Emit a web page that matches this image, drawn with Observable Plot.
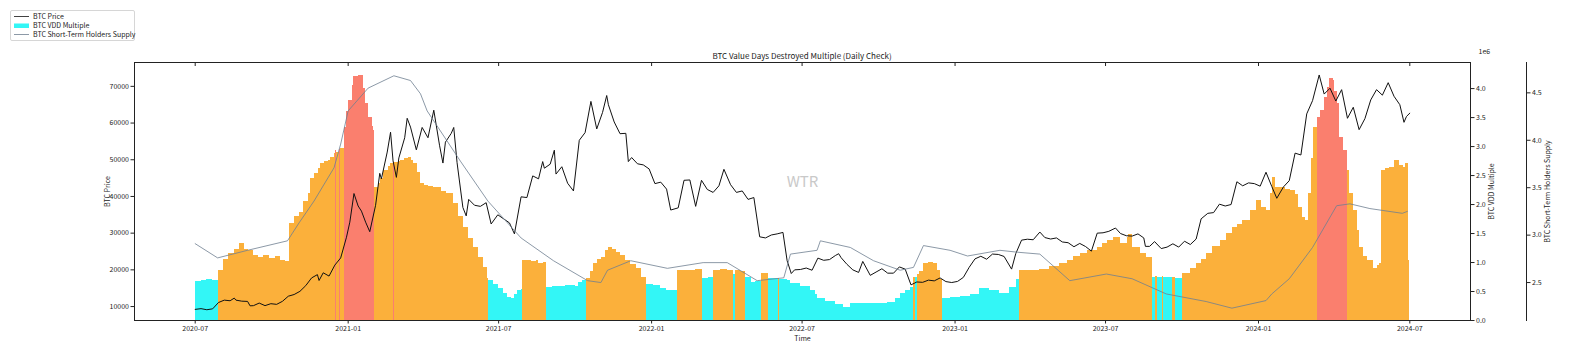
<!DOCTYPE html>
<html><head><meta charset="utf-8">
<script src="https://cdn.jsdelivr.net/npm/d3@7"></script>
<script src="https://cdn.jsdelivr.net/npm/@observablehq/plot@0.6"></script>
<style>
body{margin:0;background:#fff;}
#wrap{position:relative;width:1569px;height:346px;overflow:hidden;font-family:"Noto Sans CJK SC","DejaVu Sans",sans-serif;color:#222;}
.layer{position:absolute;left:0;top:0;}
.legend{position:absolute;left:10px;top:10px;width:123px;height:29px;border:1px solid #d6d6d6;border-radius:2px;background:#fff;font-size:7px;}
.row{position:absolute;left:0;height:9px;line-height:9px;white-space:nowrap;}
.row svg{position:absolute;left:3px;top:0;}
.row span{position:absolute;left:22px;top:0;}
.title{position:absolute;top:50px;left:0;width:1604px;text-align:center;font-size:8px;}
</style></head>
<body><div id="wrap"></div>
<script>
// ---------- data ----------
const priceDates = ["2020-07-01","2020-07-08","2020-07-15","2020-07-22","2020-07-29","2020-08-05","2020-08-12","2020-08-17","2020-08-19","2020-08-26","2020-09-02","2020-09-05","2020-09-09","2020-09-16","2020-09-23","2020-09-30","2020-10-07","2020-10-14","2020-10-21","2020-10-28","2020-11-04","2020-11-11","2020-11-18","2020-11-25","2020-11-27","2020-12-02","2020-12-09","2020-12-16","2020-12-23","2020-12-30","2021-01-03","2021-01-08","2021-01-13","2021-01-17","2021-01-22","2021-01-27","2021-02-03","2021-02-08","2021-02-10","2021-02-17","2021-02-21","2021-02-24","2021-02-28","2021-03-03","2021-03-10","2021-03-13","2021-03-17","2021-03-24","2021-03-31","2021-04-07","2021-04-14","2021-04-21","2021-04-25","2021-04-28","2021-05-05","2021-05-08","2021-05-12","2021-05-19","2021-05-23","2021-05-26","2021-06-02","2021-06-09","2021-06-16","2021-06-22","2021-06-30","2021-07-07","2021-07-14","2021-07-20","2021-07-28","2021-08-04","2021-08-11","2021-08-18","2021-08-23","2021-08-25","2021-09-01","2021-09-06","2021-09-08","2021-09-15","2021-09-22","2021-09-29","2021-10-06","2021-10-13","2021-10-20","2021-10-27","2021-11-03","2021-11-08","2021-11-10","2021-11-17","2021-11-24","2021-12-01","2021-12-04","2021-12-08","2021-12-15","2021-12-22","2021-12-29","2022-01-05","2022-01-12","2022-01-19","2022-01-24","2022-02-02","2022-02-09","2022-02-16","2022-02-23","2022-03-02","2022-03-09","2022-03-16","2022-03-23","2022-03-29","2022-04-06","2022-04-13","2022-04-20","2022-04-27","2022-05-04","2022-05-11","2022-05-18","2022-05-25","2022-06-01","2022-06-08","2022-06-13","2022-06-18","2022-06-22","2022-06-29","2022-07-06","2022-07-13","2022-07-20","2022-07-27","2022-08-03","2022-08-10","2022-08-14","2022-08-17","2022-08-24","2022-08-31","2022-09-07","2022-09-12","2022-09-21","2022-09-28","2022-10-05","2022-10-12","2022-10-19","2022-10-26","2022-11-02","2022-11-09","2022-11-16","2022-11-23","2022-11-30","2022-12-07","2022-12-14","2022-12-21","2022-12-28","2023-01-04","2023-01-11","2023-01-18","2023-01-25","2023-02-01","2023-02-08","2023-02-15","2023-02-22","2023-03-01","2023-03-10","2023-03-15","2023-03-22","2023-03-29","2023-04-05","2023-04-13","2023-04-19","2023-04-26","2023-05-03","2023-05-10","2023-05-17","2023-05-24","2023-05-31","2023-06-07","2023-06-14","2023-06-21","2023-06-28","2023-07-05","2023-07-13","2023-07-19","2023-07-26","2023-08-02","2023-08-09","2023-08-16","2023-08-18","2023-08-23","2023-08-29","2023-09-06","2023-09-13","2023-09-20","2023-09-27","2023-10-04","2023-10-11","2023-10-18","2023-10-24","2023-11-01","2023-11-08","2023-11-15","2023-11-22","2023-11-29","2023-12-06","2023-12-13","2023-12-20","2023-12-27","2024-01-03","2024-01-10","2024-01-17","2024-01-23","2024-01-31","2024-02-07","2024-02-14","2024-02-21","2024-02-28","2024-03-06","2024-03-14","2024-03-20","2024-03-27","2024-04-03","2024-04-10","2024-04-17","2024-04-24","2024-05-01","2024-05-08","2024-05-15","2024-05-22","2024-05-29","2024-06-05","2024-06-12","2024-06-19","2024-06-24","2024-06-27","2024-07-01"];
const priceValues = [9230,9430,9130,9380,11100,11750,11580,12300,11750,11470,11400,10200,10240,10950,10250,10780,10600,11430,12820,13280,14150,15700,17800,18700,17100,19200,18300,21300,23250,28900,33000,40800,37400,36000,33000,30400,37600,46300,44800,52100,57500,49700,45200,50500,56000,61300,58900,52700,58800,56000,63500,53800,49100,54800,57200,58800,49200,37000,34700,39200,37600,37300,38300,32500,35000,33900,32800,29800,39900,39700,45600,44800,49500,47700,48800,52600,46100,48100,43600,41500,55300,57400,65900,58400,62900,67500,65000,60300,57100,57200,49500,50600,48900,48600,47500,43500,43900,42000,36300,36900,44400,44500,37300,44400,41900,41100,42900,47400,43200,41100,41500,39200,39700,29000,28700,29500,29800,30200,22500,19000,20000,20100,20500,19900,23200,22600,22800,23900,24400,23300,21500,20000,19300,22300,18500,19400,20300,19100,19100,20800,20200,15900,16700,16600,17200,17000,17800,16800,16550,16850,17950,20700,23000,23700,22900,24300,24200,23650,20200,24400,28100,28350,28200,30300,28800,28400,28700,27600,27400,26300,27200,26350,25100,30000,30100,30500,31400,29900,29300,29200,29800,28700,26400,26400,27700,25800,26200,27100,26200,27800,26900,28400,33900,35400,35600,37900,37400,37800,44000,42900,43700,43500,42800,46600,42700,39500,42600,44300,51800,51300,62500,66100,73100,67900,69500,66000,69100,61300,64300,58200,61200,66300,69100,67600,71000,67300,65000,60200,61800,62700];

const sthDates = ["2020-07-01","2020-07-28","2020-09-02","2020-10-20","2020-11-03","2020-11-21","2020-12-15","2020-12-23","2021-01-01","2021-01-25","2021-02-25","2021-03-17","2021-03-29","2021-04-06","2021-05-16","2021-06-18","2021-07-28","2021-09-05","2021-10-16","2021-11-01","2021-11-09","2021-12-07","2022-01-20","2022-03-04","2022-04-02","2022-05-08","2022-06-09","2022-06-17","2022-07-19","2022-07-23","2022-08-28","2022-09-25","2022-10-27","2022-11-12","2022-11-24","2022-12-26","2023-01-16","2023-02-24","2023-03-17","2023-04-13","2023-05-19","2023-07-02","2023-08-02","2023-09-12","2023-10-30","2023-11-30","2024-01-10","2024-01-17","2024-02-07","2024-03-06","2024-04-04","2024-04-20","2024-05-14","2024-06-22","2024-06-28"];
const sthValues = [2.91,2.76,2.84,2.94,3.13,3.36,3.71,3.96,4.31,4.55,4.68,4.63,4.49,4.31,3.78,3.36,2.97,2.73,2.52,2.50,2.63,2.73,2.65,2.71,2.71,2.52,2.55,2.80,2.84,2.94,2.87,2.73,2.63,2.66,2.89,2.84,2.78,2.84,2.82,2.80,2.52,2.59,2.54,2.38,2.30,2.23,2.31,2.38,2.54,2.87,3.31,3.33,3.28,3.23,3.25];

const vddDates = ["2020-07-01","2020-07-08","2020-07-15","2020-07-22","2020-07-29","2020-08-04","2020-08-10","2020-08-17","2020-08-23","2020-08-29","2020-09-03","2020-09-09","2020-09-15","2020-09-21","2020-09-28","2020-10-05","2020-10-12","2020-10-18","2020-10-22","2020-10-28","2020-11-03","2020-11-08","2020-11-14","2020-11-17","2020-11-21","2020-11-26","2020-11-29","2020-12-04","2020-12-08","2020-12-11","2020-12-15","2020-12-17","2020-12-18","2020-12-22","2020-12-23","2020-12-27","2020-12-30","2021-01-02","2021-01-06","2021-01-08","2021-01-13","2021-01-16","2021-01-19","2021-01-22","2021-01-26","2021-01-30","2021-02-01","2021-02-02","2021-02-06","2021-02-09","2021-02-13","2021-02-18","2021-02-21","2021-02-25","2021-02-26","2021-03-02","2021-03-05","2021-03-10","2021-03-14","2021-03-18","2021-03-21","2021-03-26","2021-03-29","2021-04-03","2021-04-08","2021-04-14","2021-04-23","2021-04-29","2021-05-05","2021-05-08","2021-05-14","2021-05-20","2021-05-26","2021-06-01","2021-06-07","2021-06-13","2021-06-18","2021-06-19","2021-06-25","2021-07-01","2021-07-07","2021-07-12","2021-07-16","2021-07-20","2021-07-24","2021-07-28","2021-07-30","2021-08-09","2021-08-16","2021-08-18","2021-08-24","2021-08-28","2021-09-04","2021-09-11","2021-09-20","2021-09-26","2021-10-01","2021-10-05","2021-10-10","2021-10-15","2021-10-20","2021-10-23","2021-10-28","2021-11-02","2021-11-07","2021-11-10","2021-11-15","2021-11-20","2021-11-25","2021-12-01","2021-12-07","2021-12-14","2021-12-20","2021-12-26","2022-01-03","2022-01-12","2022-01-19","2022-01-26","2022-02-01","2022-02-11","2022-02-23","2022-03-03","2022-03-10","2022-03-17","2022-03-25","2022-04-02","2022-04-10","2022-04-12","2022-04-18","2022-04-24","2022-05-01","2022-05-06","2022-05-13","2022-05-18","2022-05-22","2022-06-03","2022-06-04","2022-06-13","2022-06-17","2022-06-29","2022-07-11","2022-07-17","2022-07-19","2022-07-29","2022-08-10","2022-08-20","2022-08-28","2022-09-09","2022-09-21","2022-10-03","2022-10-12","2022-10-21","2022-10-27","2022-11-02","2022-11-08","2022-11-12","2022-11-14","2022-11-17","2022-11-19","2022-11-24","2022-11-30","2022-12-06","2022-12-11","2022-12-14","2022-12-17","2022-12-26","2023-01-07","2023-01-19","2023-01-31","2023-02-12","2023-02-24","2023-03-08","2023-03-16","2023-03-20","2023-04-01","2023-04-13","2023-04-25","2023-05-07","2023-05-16","2023-05-23","2023-06-01","2023-06-09","2023-06-21","2023-06-27","2023-07-03","2023-07-10","2023-07-19","2023-07-27","2023-07-29","2023-08-03","2023-08-12","2023-08-19","2023-08-26","2023-08-30","2023-09-02","2023-09-07","2023-09-09","2023-09-19","2023-09-23","2023-10-02","2023-10-11","2023-10-19","2023-10-25","2023-10-31","2023-11-07","2023-11-16","2023-11-24","2023-12-01","2023-12-07","2023-12-13","2023-12-22","2023-12-30","2024-01-05","2024-01-11","2024-01-15","2024-01-18","2024-01-22","2024-01-27","2024-02-02","2024-02-08","2024-02-14","2024-02-18","2024-02-23","2024-02-26","2024-03-01","2024-03-05","2024-03-07","2024-03-12","2024-03-15","2024-03-20","2024-03-24","2024-03-27","2024-03-31","2024-04-02","2024-04-05","2024-04-08","2024-04-12","2024-04-17","2024-04-20","2024-04-24","2024-04-29","2024-05-02","2024-05-06","2024-05-11","2024-05-18","2024-05-23","2024-05-26","2024-05-28","2024-06-02","2024-06-07","2024-06-13","2024-06-18","2024-06-23","2024-06-26","2024-06-29"];
const vddValues = [0.68,0.69,0.70,0.69,0.86,1.05,1.16,1.22,1.33,1.22,1.20,1.12,1.09,1.12,1.07,1.10,1.03,1.01,1.67,1.80,1.86,2.05,2.19,2.45,2.53,2.62,2.71,2.74,2.76,2.82,2.88,2.93,2.90,2.95,2.96,3.33,3.60,3.80,4.05,4.20,4.22,4.22,4.00,3.75,3.50,3.35,3.28,2.30,2.36,2.45,2.59,2.66,2.71,2.72,2.72,2.74,2.76,2.79,2.81,2.76,2.71,2.55,2.36,2.33,2.31,2.30,2.22,2.19,2.19,2.02,1.80,1.60,1.42,1.26,1.08,0.91,0.72,0.69,0.62,0.55,0.47,0.40,0.38,0.45,0.52,0.54,1.03,1.01,1.04,0.98,1.00,0.57,0.59,0.58,0.60,0.61,0.58,0.66,0.69,0.72,0.85,0.98,1.05,1.09,1.20,1.26,1.22,1.18,1.12,1.03,0.96,0.90,0.75,0.62,0.60,0.55,0.52,0.52,0.86,0.87,0.88,0.72,0.74,0.86,0.88,0.86,0.80,0.86,0.84,0.74,0.66,0.68,0.81,0.81,0.72,0.72,0.71,0.69,0.64,0.58,0.52,0.45,0.38,0.33,0.27,0.22,0.29,0.29,0.29,0.30,0.31,0.38,0.46,0.52,0.57,0.74,0.74,0.80,0.85,0.98,1.00,0.98,0.86,0.70,0.38,0.40,0.42,0.45,0.55,0.52,0.47,0.57,0.70,0.86,0.87,0.88,0.93,0.98,1.03,1.10,1.16,1.20,1.26,1.32,1.38,1.43,1.33,1.43,1.48,1.26,1.16,1.09,0.74,0.76,0.74,0.76,0.74,0.74,0.72,0.81,0.90,0.98,1.05,1.16,1.28,1.38,1.50,1.60,1.66,1.72,1.90,2.07,1.95,1.90,2.19,2.47,2.30,2.30,2.26,2.24,2.18,1.95,1.78,1.72,2.19,2.80,3.33,3.50,3.62,3.85,4.02,4.17,4.14,3.95,3.74,3.16,2.93,2.59,2.19,1.90,1.55,1.26,1.10,1.03,0.90,0.95,0.98,2.59,2.62,2.64,2.76,2.68,2.64,2.70,1.03];
const vddZones = ["low","low","low","low","mid","mid","mid","mid","mid","mid","mid","mid","mid","mid","mid","mid","mid","mid","mid","mid","mid","mid","mid","mid","mid","mid","mid","mid","mid","mid","mid","high","mid","high","mid","high","high","high","high","high","high","high","high","high","high","high","high","mid","mid","mid","mid","mid","mid","high","mid","mid","mid","mid","mid","mid","mid","mid","mid","mid","mid","mid","mid","mid","mid","mid","mid","mid","mid","mid","mid","mid","mid","low","low","low","low","low","low","low","low","low","mid","mid","mid","mid","mid","low","low","low","low","low","low","low","low","mid","mid","mid","mid","mid","mid","mid","mid","mid","mid","mid","mid","mid","mid","low","low","low","low","low","mid","mid","mid","low","low","mid","mid","mid","low","mid","mid","low","low","low","mid","mid","low","mid","low","low","low","low","low","low","low","low","low","low","low","low","low","low","low","low","low","low","low","mid","low","mid","mid","mid","mid","mid","mid","mid","low","low","low","low","low","low","low","low","low","mid","mid","mid","mid","mid","mid","mid","mid","mid","mid","mid","mid","mid","mid","mid","mid","mid","mid","mid","low","mid","low","mid","low","mid","low","mid","mid","mid","mid","mid","mid","mid","mid","mid","mid","mid","mid","mid","mid","mid","mid","mid","mid","mid","mid","mid","mid","mid","mid","mid","mid","mid","mid","high","high","high","high","high","high","high","high","high","high","mid","mid","mid","mid","mid","mid","mid","mid","mid","mid","mid","mid","mid","mid","mid","mid","mid","mid","mid"];
const vddEnd = "2024-07-01";

const zoneNames = ["low","mid","high"];
const zoneColors = ["#33f6f6","#fbb03b","#fa7f6e"];
const xTickDates = ["2020-07-01","2021-01-01","2021-07-01","2022-01-01","2022-07-01","2023-01-01","2023-07-01","2024-01-01","2024-07-01"];
const priceTicks = [10000,20000,30000,40000,50000,60000,70000];
const vddTicks = [0,0.5,1,1.5,2,2.5,3,3.5,4];
const sthTicks = [2.5,3,3.5,4,4.5];
const titleText = "BTC Value Days Destroyed Multiple (Daily Check)";
const legendLabels = ["BTC Price","BTC VDD Multiple","BTC Short-Term Holders Supply"];
const axisLabels = {x:"Time", price:"BTC Price", vdd:"BTC VDD Multiple", sth:"BTC Short-Term Holders Supply"};
const watermark = "WTR";
const sthMultiplier = "1e6";

// ---------- build ----------
const W = 1569, H = 346;
const FONT = '"Noto Sans CJK SC","DejaVu Sans",sans-serif';
const M = {top:62, bottom:26, left:134, right:99};
const parse = d3.utcParse("%Y-%m-%d");
const xDomain = [parse("2020-04-19"), parse("2024-09-12")];
const xTicks = xTickDates.map(parse);
const price = priceDates.map((d,i)=>({date:parse(d), value:priceValues[i]}));
const sth = sthDates.map((d,i)=>({date:parse(d), value:sthValues[i]}));
const vdd = vddDates.map((d,i)=>({x1:parse(d), x2:parse(i<vddDates.length-1?vddDates[i+1]:vddEnd), value:vddValues[i], zone:vddZones[i]}));
const PRICE_C = "#111", STH_C = "#6e7f90", AX = "#222";
const baseStyle = {background:"transparent", fontSize:"7px", fontFamily:FONT, color:AX, overflow:"visible"};
const wrap = document.getElementById("wrap");
function add(svg){const d=document.createElement("div");d.className="layer";d.appendChild(svg);wrap.appendChild(d);}

// layer 1: VDD multiple bars, right axis
add(Plot.plot({
  width:W, height:H, marginTop:M.top, marginBottom:M.bottom, marginLeft:M.left, marginRight:M.right,
  style:baseStyle,
  x:{type:"utc", domain:xDomain, axis:null},
  y:{domain:[0,4.45], axis:null},
  color:{type:"ordinal", domain:zoneNames, range:zoneColors},
  marks:[
    Plot.rectY(vdd, {x1:"x1", x2:"x2", y:"value", fill:"zone", shapeRendering:"crispEdges"}),
    Plot.axisY({anchor:"right", ticks:vddTicks, tickFormat:d3.format(".1f"), tickSize:3.5, tickPadding:2, stroke:AX,
      label:axisLabels.vdd, labelAnchor:"center", labelOffset:23, labelArrow:"none"}),
    Plot.text([sthMultiplier], {text:d=>d, frameAnchor:"top-right", dx:8, dy:-13, textAnchor:"start", fontSize:7, fill:AX})
  ]
}));

// layer 2: price line, left axis, x axis, frame
add(Plot.plot({
  width:W, height:H, marginTop:M.top, marginBottom:M.bottom, marginLeft:M.left, marginRight:M.right,
  style:baseStyle,
  x:{type:"utc", domain:xDomain, axis:null},
  y:{domain:[6200,76500], axis:null},
  marks:[
    Plot.text([watermark], {text:d=>d, frameAnchor:"middle", dy:-9, fontSize:15, fill:"#c9c9c9"}),
    Plot.lineY(price, {x:"date", y:"value", stroke:PRICE_C, strokeWidth:1}),
    Plot.frame({stroke:AX, strokeWidth:1}),
    Plot.axisY({anchor:"left", ticks:priceTicks, tickFormat:d=>String(d), tickSize:3.5, tickPadding:2, stroke:AX,
      label:axisLabels.price, labelAnchor:"center", labelOffset:29, labelArrow:"none"}),
    Plot.axisX({anchor:"bottom", ticks:xTicks, tickFormat:d3.utcFormat("%Y-%m"), tickSize:3.5, tickPadding:2, stroke:AX,
      label:axisLabels.x, labelAnchor:"center", labelOffset:20, labelArrow:"none"}),
    Plot.axisX({anchor:"top", ticks:xTicks, tickSize:-3, tickFormat:()=>"", stroke:AX, label:null})
  ]
}));

// layer 3: short-term holders supply, offset right axis
add(Plot.plot({
  width:W, height:H, marginTop:M.top, marginBottom:M.bottom, marginLeft:M.left, marginRight:43,
  style:baseStyle,
  x:{type:"utc", domain:xDomain, range:[M.left, W-M.right], axis:null},
  y:{domain:[2.1,4.82], axis:null},
  marks:[
    Plot.lineY(sth, {x:"date", y:"value", stroke:STH_C, strokeWidth:0.8}),
    Plot.frame({anchor:"right", stroke:AX, strokeWidth:1}),
    Plot.axisY({anchor:"right", ticks:sthTicks, tickFormat:d3.format(".1f"), tickSize:3.5, tickPadding:2, stroke:AX,
      label:axisLabels.sth, labelAnchor:"center", labelOffset:23, labelArrow:"none"})
  ]
}));

// title
const t = document.createElement("div"); t.className="title"; t.textContent=titleText; wrap.appendChild(t);
// legend
const lg = document.createElement("div"); lg.className="legend";
const legendMarks = [
  `<svg width="15" height="9"><line x1="0" x2="15" y1="4.5" y2="4.5" stroke="${PRICE_C}" stroke-width="0.8"/></svg>`,
  `<svg width="15" height="9"><rect x="0" y="2.5" width="15" height="4.5" fill="${zoneColors[0]}"/></svg>`,
  `<svg width="15" height="9"><line x1="0" x2="15" y1="4.5" y2="4.5" stroke="${STH_C}" stroke-width="0.8"/></svg>`
];
legendLabels.forEach((lab,i)=>{
  const r=document.createElement("div"); r.className="row"; r.style.top=(1+i*9)+"px";
  r.innerHTML=legendMarks[i]; const s=document.createElement("span"); s.textContent=lab; r.appendChild(s); lg.appendChild(r);
});
wrap.appendChild(lg);
</script>
</body></html>
